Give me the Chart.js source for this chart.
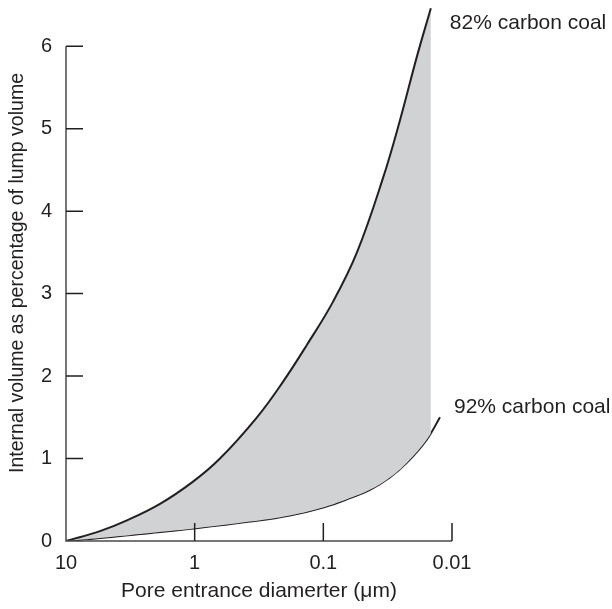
<!DOCTYPE html>
<html>
<head>
<meta charset="utf-8">
<script src="https://cdn.jsdelivr.net/npm/chart.js@4/dist/chart.umd.min.js"></script>
<style>
  html, body { margin: 0; padding: 0; background: #fff; }
  #wrap { width: 612px; height: 609px; }
</style>
</head>
<body>
<div id="wrap"><canvas id="poreChart"></canvas></div>
<script>
// pore entrance diameter (um) and internal volume (% of lump volume)
const coal82Diam = [10, 5.44, 3.36, 1.86, 1.03, 0.636, 0.328, 0.206, 0.134, 0.0842, 0.0548, 0.0344, 0.0254, 0.0187, 0.0146];
const coal82Vol  = [0, 0.12, 0.25, 0.45, 0.72, 1.00, 1.50, 1.93, 2.38, 2.90, 3.50, 4.40, 5.10, 5.88, 6.46];
const coal92Diam = [10, 5.44, 2.66, 0.977, 0.372, 0.182, 0.0989, 0.0621, 0.0434, 0.0304, 0.0224, 0.0157, 0.0124];
const coal92Vol  = [0, 0.035, 0.085, 0.155, 0.235, 0.31, 0.41, 0.52, 0.62, 0.77, 0.95, 1.23, 1.50];
const seriesNames = ['82% carbon coal', '92% carbon coal'];
const xTicks = [10, 1, 0.1, 0.01];
const xTickLabels = ['10', '1', '0.1', '0.01'];
const yTicks = [0, 1, 2, 3, 4, 5, 6];

document.addEventListener('DOMContentLoaded', function () {
    const FONT = '"Liberation Sans", Arial, Helvetica, sans-serif';
    const INK = '#231f20';

    const toPoints = (xs, ys) => xs.map((x, i) => ({ x: x, y: ys[i] }));

    // axis lines + inward tick marks, no grid
    const axisFrame = {
        id: 'axisFrame',
        afterDatasetsDraw: (chart) => {
            const {ctx, scales: {x, y}} = chart;
            const x0 = x.getPixelForValue(10);
            const y0 = y.getPixelForValue(0);
            ctx.save();
            ctx.strokeStyle = '#4a4a4a';
            ctx.lineWidth = 1.5;
            ctx.beginPath();
            ctx.moveTo(x0, y.getPixelForValue(6));
            ctx.lineTo(x0, y0);
            ctx.lineTo(x.getPixelForValue(0.01), y0);
            ctx.stroke();
            ctx.strokeStyle = INK;
            ctx.beginPath();
            yTicks.slice(1).forEach(v => {
                const py = y.getPixelForValue(v);
                ctx.moveTo(x0, py);
                ctx.lineTo(x0 + 17, py);
            });
            xTicks.slice(1).forEach(v => {
                const px = x.getPixelForValue(v);
                ctx.moveTo(px, y0);
                ctx.lineTo(px, y0 - 18);
            });
            ctx.stroke();
            ctx.restore();
        }
    };

    // series names written next to the end of each curve
    const endLabels = {
        id: 'endLabels',
        afterDatasetsDraw: (chart) => {
            const {ctx} = chart;
            const offsets = [[19, 15], [14, -10]];
            ctx.save();
            ctx.font = '21px ' + FONT;
            ctx.fillStyle = INK;
            ctx.textBaseline = 'middle';
            chart.data.datasets.forEach((ds, i) => {
                const pts = chart.getDatasetMeta(i).data;
                const last = pts[pts.length - 1];
                ctx.fillText(ds.label, last.x + offsets[i][0], last.y + offsets[i][1]);
            });
            ctx.restore();
        }
    };

    const ctx = document.getElementById('poreChart').getContext('2d');

    new Chart(ctx, {
        type: 'line',
        data: {
            datasets: [
                {
                    label: seriesNames[0],
                    data: toPoints(coal82Diam, coal82Vol),
                    borderColor: INK,
                    borderWidth: 2,
                    backgroundColor: '#d1d2d4',
                    fill: '+1',
                    pointRadius: 0,
                    tension: 0.4
                },
                {
                    label: seriesNames[1],
                    data: toPoints(coal92Diam, coal92Vol),
                    borderColor: INK,
                    borderWidth: 2,
                    fill: false,
                    pointRadius: 0,
                    tension: 0.4
                }
            ]
        },
        options: {
            responsive: true,
            maintainAspectRatio: false,
            animation: false,
            layout: { padding: { top: 5, right: 160, bottom: 0, left: 0 } },
            plugins: {
                legend: { display: false },
                tooltip: { enabled: false }
            },
            scales: {
                x: {
                    type: 'logarithmic',
                    reverse: true,
                    min: 0.01,
                    max: 10,
                    grid: { display: false, drawTicks: false },
                    border: { display: false },
                    afterBuildTicks: (axis) => { axis.ticks = xTicks.map(v => ({ value: v })); },
                    afterFit: (axis) => { axis.height = 68; },
                    ticks: {
                        color: INK,
                        padding: 10,
                        maxRotation: 0,
                        autoSkip: false,
                        font: { family: FONT, size: 20 },
                        callback: (v) => xTickLabels[xTicks.indexOf(v)]
                    },
                    title: {
                        display: true,
                        text: 'Pore entrance diamerter (\u03bcm)',
                        color: INK,
                        padding: { top: 0, bottom: 5 },
                        font: { family: FONT, size: 21 }
                    }
                },
                y: {
                    min: 0,
                    max: 6.5,
                    grid: { display: false, drawTicks: false },
                    border: { display: false },
                    afterBuildTicks: (axis) => { axis.ticks = yTicks.map(v => ({ value: v })); },
                    afterFit: (axis) => {
                        axis.width = 66;
                        axis.paddingTop = 0;
                        axis.paddingBottom = 0;
                    },
                    ticks: {
                        color: INK,
                        padding: 14,
                        font: { family: FONT, size: 20 }
                    },
                    title: {
                        display: true,
                        text: 'Internal volume as percentage of lump volume',
                        color: INK,
                        padding: { top: 6, bottom: 0 },
                        font: { family: FONT, size: 19.5 }
                    }
                }
            }
        },
        plugins: [axisFrame, endLabels]
    });
});
</script>
</body>
</html>
